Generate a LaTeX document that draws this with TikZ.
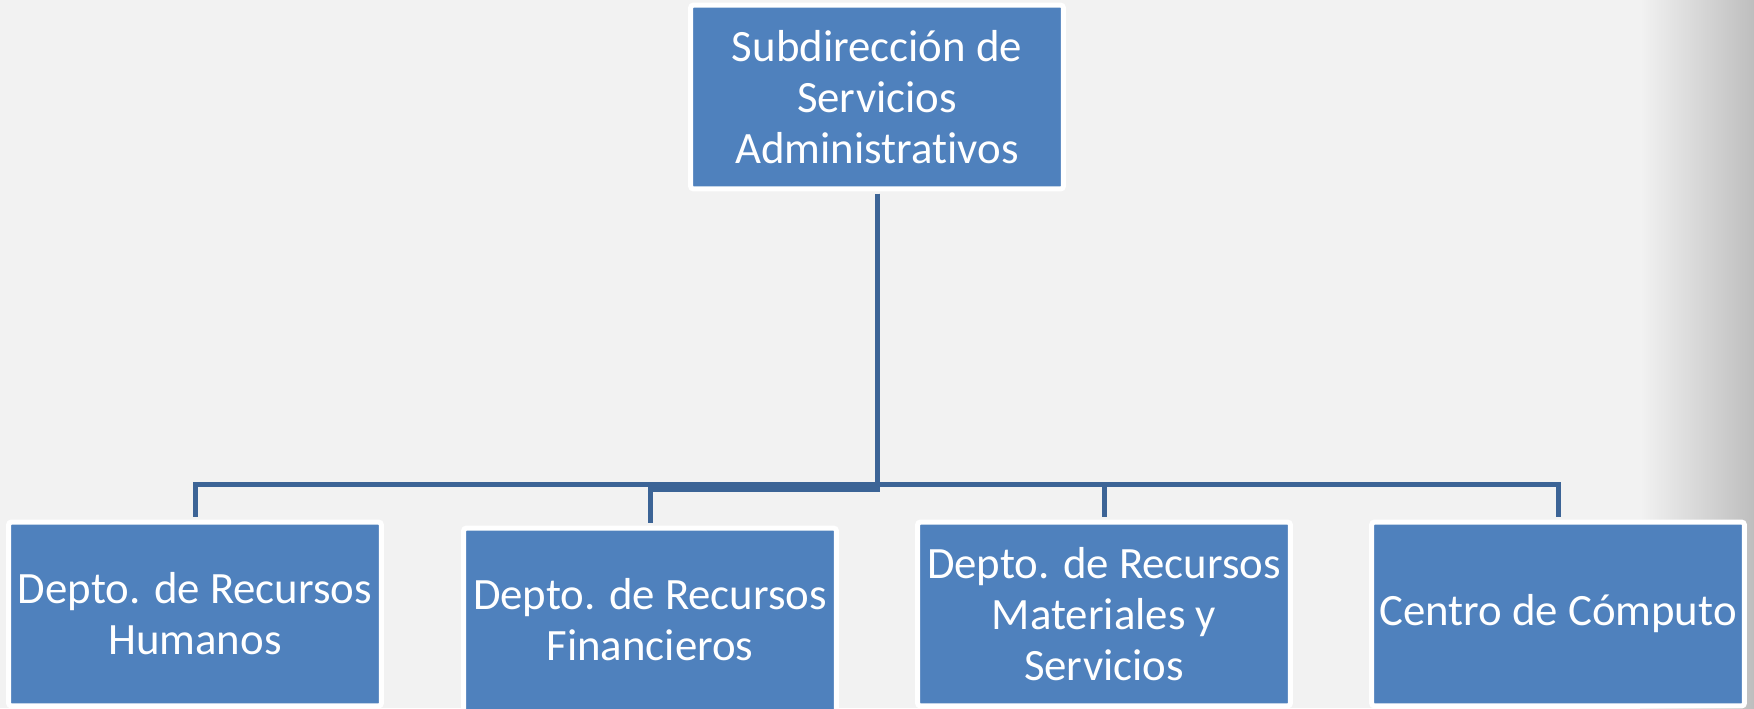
\documentclass[tikz,border=0pt]{standalone}
\usepackage{fontspec}
\setmainfont[Ligatures=CommonOff]{Carlito}
\definecolor{fondo}{RGB}{242,242,242}
\definecolor{sombra}{RGB}{190,190,190}
\definecolor{azul}{RGB}{79,129,189}
\definecolor{linea}{RGB}{60,100,150}
\begin{document}
\begin{tikzpicture}[x=0.02cm,y=-0.02cm,
  caja/.style={draw=white,fill=azul,line width=0.1cm,rounded corners=0.06cm,
    minimum width=7.46cm,minimum height=3.68cm,inner sep=0pt,
    text=white,align=center,font=\fontsize{25.5}{29}\selectfont},
  rama/.style={draw=linea,line width=0.1cm,shorten <=0.05cm,shorten >=0.05cm}]
\useasboundingbox (0,0) rectangle (1754,708);
\clip (0,0) rectangle (1754,708);
\fill[fondo] (0,0) rectangle (1754,708);
\shade[left color=fondo,right color=sombra] (1640,0) rectangle (1754,708);
\node[caja] (sub) at (877,97) {Subdirección de\\Servicios\\Administrativos};
\node[caja] (rh) at (195,614) {Depto. de Recursos\\Humanos};
\node[caja] (rf) at (650,620) {Depto. de Recursos\\Financieros};
\node[caja] (rm) at (1104,614) {Depto. de Recursos\\Materiales y\\Servicios};
\node[caja] (cc) at (1558,614) {Centro de Cómputo};
\coordinate (barra) at (877,484.5);
\coordinate (barra2) at (877,489.5);
\path[rama] (sub.south) -- (barra) -| (rh.north);
\path[rama] (sub.south) -- (barra2) -| (rf.north);
\path[rama] (sub.south) -- (barra) -| (rm.north);
\path[rama] (sub.south) -- (barra) -| (cc.north);
\end{tikzpicture}
\end{document}
